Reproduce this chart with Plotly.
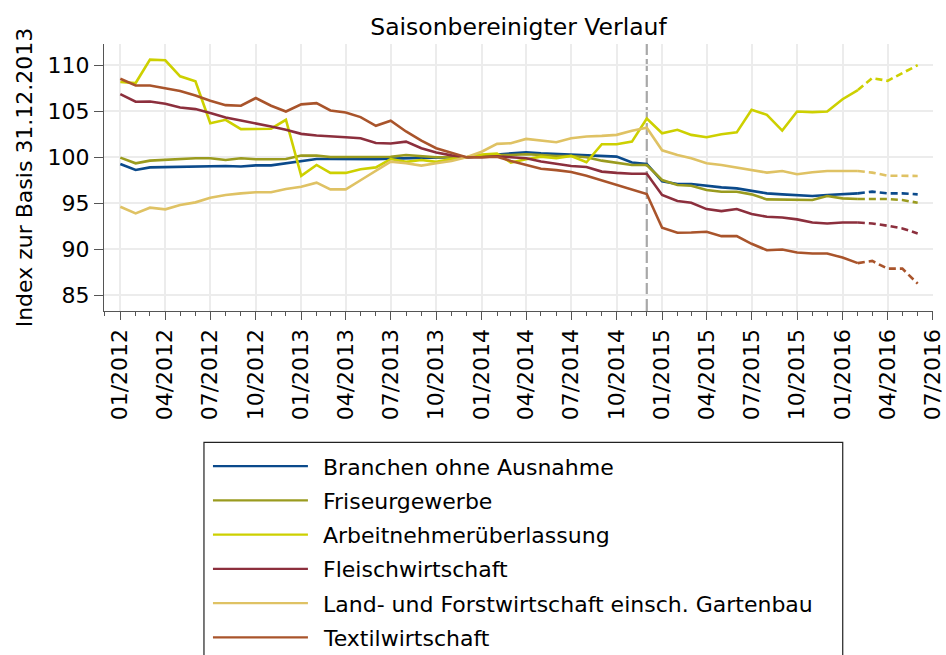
import plotly.graph_objects as go
import pandas as pd

# ---------------- data ----------------
months = pd.date_range("2012-01-01", periods=54, freq="MS")   # 01/2012 .. 06/2016
last_solid = 49          # index of 02/2016: solid up to here, dashed afterwards
break_month = "2014-12-01"

names = [
    "Branchen ohne Ausnahme",
    "Friseurgewerbe",
    "Arbeitnehmerüberlassung",
    "Fleischwirtschaft",
    "Land- und Forstwirtschaft einsch. Gartenbau",
    "Textilwirtschaft",
]

branchen = [99.27, 98.62, 98.90, 98.94, 98.98, 99.05, 99.05, 99.05, 99.00, 99.12,
            99.12, 99.34, 99.63, 99.81, 99.81, 99.80, 99.80, 99.80, 99.85, 99.90,
            99.95, 99.95, 100.0, 100.0, 100.10, 100.30, 100.43, 100.54, 100.43, 100.36,
            100.32, 100.25, 100.14, 100.07, 99.42, 99.27, 97.40, 97.10, 97.10, 96.91,
            96.73, 96.62, 96.37, 96.08, 95.97, 95.90, 95.79, 95.90, 96.00, 96.08,
            96.26, 96.08, 96.08, 95.97]

friseur = [99.96, 99.34, 99.63, 99.74, 99.85, 99.89, 99.89, 99.70, 99.89, 99.78,
           99.78, 99.81, 100.18, 100.18, 100.03, 100.05, 100.00, 100.05, 100.05, 100.25,
           100.10, 100.00, 100.00, 100.0, 100.10, 100.25, 100.25, 100.32, 100.25, 100.14,
           100.14, 100.00, 99.63, 99.42, 99.16, 99.16, 97.53, 96.99, 96.91, 96.44,
           96.26, 96.26, 95.97, 95.42, 95.42, 95.42, 95.35, 95.79, 95.53, 95.46,
           95.46, 95.46, 95.35, 95.06]

anue = [108.17, 108.06, 110.60, 110.53, 108.79, 108.24, 103.70, 104.07, 103.05, 103.05,
        103.10, 104.07, 97.97, 99.16, 98.30, 98.30, 98.70, 98.90, 99.80, 99.50,
        99.70, 99.50, 99.80, 100.0, 100.30, 100.40, 99.42, 99.78, 100.07, 99.89,
        100.14, 99.45, 101.41, 101.41, 101.70, 104.20, 102.60, 102.98, 102.43, 102.18,
        102.50, 102.70, 105.16, 104.60, 102.90, 104.97, 104.90, 104.97, 106.30, 107.30,
        108.60, 108.30, 109.15, 110.00]

fleisch = [106.86, 106.03, 106.06, 105.80, 105.41, 105.23, 104.80, 104.32, 103.99, 103.70,
           103.34, 102.98, 102.54, 102.36, 102.30, 102.17, 102.07, 101.55, 101.50, 101.70,
           100.98, 100.52, 100.20, 100.0, 100.00, 100.10, 100.00, 99.89, 99.53, 99.30,
           99.05, 98.94, 98.44, 98.30, 98.20, 98.20, 95.90, 95.24, 95.06, 94.37,
           94.15, 94.37, 93.83, 93.54, 93.46, 93.25, 92.92, 92.81, 92.92, 92.92,
           92.81, 92.56, 92.27, 91.72]

land = [94.63, 93.90, 94.52, 94.34, 94.81, 95.10, 95.60, 95.90, 96.08, 96.19,
        96.19, 96.55, 96.80, 97.24, 96.51, 96.51, 97.50, 98.50, 99.52, 99.34,
        99.09, 99.34, 99.60, 100.0, 100.60, 101.45, 101.52, 101.99, 101.81, 101.63,
        102.07, 102.25, 102.32, 102.43, 102.87, 103.20, 100.75, 100.25, 99.89, 99.35,
        99.16, 98.90, 98.62, 98.33, 98.51, 98.15, 98.37, 98.51, 98.51, 98.51,
        98.33, 98.00, 98.00, 97.97]

textil = [108.53, 107.80, 107.80, 107.48, 107.20, 106.70, 106.14, 105.66, 105.60, 106.43,
          105.60, 104.97, 105.74, 105.88, 105.08, 104.87, 104.36, 103.41, 103.96, 102.80,
          101.80, 100.98, 100.47, 100.0, 100.00, 100.05, 99.60, 99.20, 98.75, 98.60,
          98.40, 98.00, 97.50, 97.05, 96.50, 96.00, 92.34, 91.80, 91.83, 91.90,
          91.43, 91.43, 90.60, 89.90, 89.98, 89.65, 89.54, 89.54, 89.10, 88.50,
          88.74, 87.90, 87.90, 86.27]

series = [branchen, friseur, anue, fleisch, land, textil]
colors = ["#0b4a8b", "#9a9b1f", "#cdd000", "#8c2f3d", "#dfc264", "#a9542b"]

y_ticks = [85, 90, 95, 100, 105, 110]

# ---------------- layout geometry (pixels) ----------------
W, H = 946, 655
L, R, T, B = 104, 933.3, 44, 310.7
FONT = "DejaVu Sans"


def px_x(px):
    return (px - L) / (R - L)


def px_y(py):
    return (B - py) / (B - T)


fig = go.Figure()

for name, vals, col in zip(names, series, colors):
    fig.add_trace(go.Scatter(
        x=months[:last_solid + 1], y=vals[:last_solid + 1], mode="lines",
        name=name, line=dict(color=col, width=2.6), showlegend=False,
        hovertemplate="%{x|%m/%Y}: %{y:.1f}<extra>" + name + "</extra>"))
    fig.add_trace(go.Scatter(
        x=months[last_solid:], y=vals[last_solid:], mode="lines",
        name=name + " (Prognose)", line=dict(color=col, width=2.6, dash="7px,4px"),
        showlegend=False,
        hovertemplate="%{x|%m/%Y}: %{y:.1f}<extra>" + name + "</extra>"))

# vertical dashed marker
fig.add_shape(type="line", xref="x", yref="paper", x0=break_month, x1=break_month,
              y0=0, y1=1, layer="between",
              line=dict(color="#a8a8a8", width=2.2, dash="12px,4px"))

# ---------------- manual legend ----------------
fig.add_shape(type="rect", xref="paper", yref="paper",
              x0=px_x(204), x1=px_x(843), y0=px_y(700), y1=px_y(442),
              line=dict(color="#222222", width=1.2), fillcolor="rgba(0,0,0,0)")
row0, step = 465.7, 34.2
for i, (name, col) in enumerate(zip(names, colors)):
    yy = row0 + i * step
    fig.add_shape(type="line", xref="paper", yref="paper",
                  x0=px_x(213), x1=px_x(308), y0=px_y(yy), y1=px_y(yy),
                  line=dict(color=col, width=2.2))
    fig.add_annotation(xref="paper", yref="paper", x=px_x(321), y=px_y(yy + 1),
                       text=name, showarrow=False, xanchor="left", yanchor="middle",
                       font=dict(family=FONT, size=22, color="#000000"))

axis_col = "#555555"
grid_col = "#ececec"

fig.update_layout(
    width=W, height=H,
    margin=dict(l=L, r=W - R, t=T, b=H - B, autoexpand=False),
    paper_bgcolor="white", plot_bgcolor="white",
    font=dict(family=FONT, size=22, color="#000000"),
    title=dict(text="Saisonbereinigter Verlauf", x=0.5, xref="paper", xanchor="center",
               y=1 - 27 / H, yref="container", yanchor="middle",
               font=dict(family=FONT, size=23.5, color="#000000")),
    showlegend=False,
    xaxis=dict(
        type="date",
        range=["2011-11-29", "2016-07-02"],
        tick0="2012-01-01", dtick="M3", tickformat="%m/%Y",
        tickangle=-90, ticks="outside", ticklen=8, tickwidth=1.3, tickcolor=axis_col,
        showline=True, linecolor=axis_col, linewidth=1.3,
        showgrid=True, gridcolor=grid_col, gridwidth=2,
        zeroline=False,
        minor=dict(dtick="M1", tick0="2012-01-01", ticks="outside", ticklen=4,
                   tickwidth=1.3, tickcolor=axis_col, showgrid=False),
        tickfont=dict(family=FONT, size=22, color="#000000"),
    ),
    yaxis=dict(
        range=[83.3, 112.3],
        tickmode="array", tickvals=y_ticks, ticktext=[str(v) for v in y_ticks],
        ticks="outside", ticklen=9, tickwidth=1.3, tickcolor=axis_col,
        showline=True, linecolor=axis_col, linewidth=1.3,
        showgrid=True, gridcolor=grid_col, gridwidth=2,
        zeroline=False,
        tickfont=dict(family=FONT, size=22, color="#000000"),
        title=dict(text="Index zur Basis 31.12.2013", standoff=8,
                   font=dict(family=FONT, size=22, color="#000000")),
    ),
)

fig.write_html("out.html",
               config={"displayModeBar": False},
               post_script="document.body.style.margin='0px';document.body.style.overflow='hidden';")
